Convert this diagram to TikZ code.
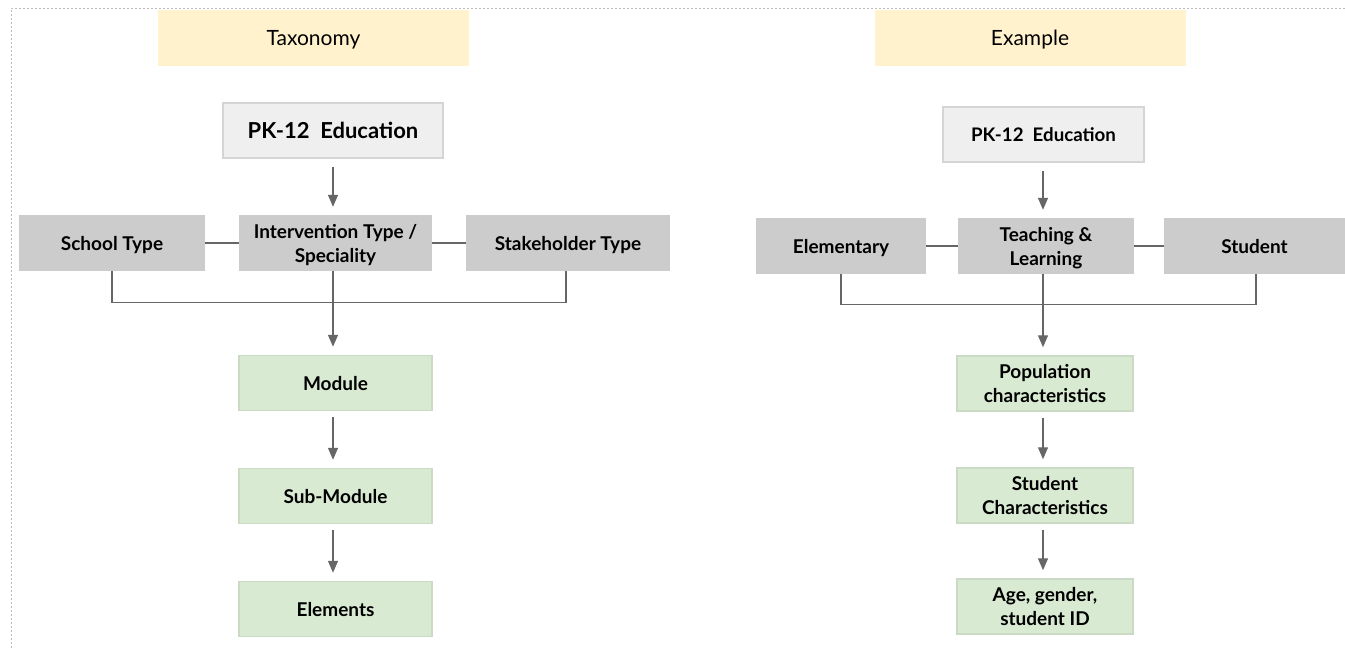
\documentclass[tikz,border=0pt]{standalone}
\usepackage{fontspec}
\setmainfont{Lato}
\usetikzlibrary{arrows.meta,positioning}
\definecolor{hdr}{HTML}{FFF2CC}
\definecolor{topfill}{HTML}{EFEFEF}
\definecolor{topline}{HTML}{D5D5D5}
\definecolor{grayfill}{HTML}{CCCCCC}
\definecolor{greenfill}{HTML}{D9EAD3}
\definecolor{greenline}{HTML}{CADAC4}
\definecolor{conn}{HTML}{666666}
\definecolor{frame}{HTML}{BBBBBB}
\tikzset{
  hdrbox/.style={fill=hdr, draw=none, minimum width=311pt, minimum height=56pt, inner sep=0pt, text depth=0pt, font=\fontsize{21}{24}\selectfont},
  topbox/.style={fill=topfill, draw=topline, line width=1.5pt, minimum height=55pt, inner sep=0pt, text depth=0pt, font=\bfseries},
  graybox/.style={fill=grayfill, draw=none, minimum height=56pt, inner sep=0pt, align=center, text depth=0pt, font=\fontsize{19}{24}\selectfont\bfseries},
  greenbox/.style={fill=greenfill, draw=greenline, line width=1.5pt, minimum height=55pt, inner sep=0pt, align=center, text depth=0pt, font=\fontsize{19}{24}\selectfont\bfseries},
  link/.style={draw=conn, line width=1.3pt},
  arr/.style={draw=conn, line width=1.3pt, -{Triangle[width=10pt,length=12pt]}, fill=conn, shorten <=8pt, shorten >=8pt},
}
\begin{document}
\begin{tikzpicture}[x=1pt,y=-1pt]
\useasboundingbox (0,0) rectangle (1345,648);
\draw[frame, line width=1pt, dash pattern=on 2pt off 2pt] (11,648) -- (11,8) -- (1345,8);

% Left: Taxonomy
\node[hdrbox] (tax) at (313.5,38) {Taxonomy};
\node[topbox, minimum width=220pt, font=\fontsize{22}{24}\selectfont\bfseries] (lpk) at (333,130.5) {PK-12\ \ Education};
\node[graybox, minimum width=186pt] (lschool) at (112,243) {School Type};
\node[graybox, minimum width=193pt] (linterv) at (335.5,243) {Intervention Type /\\Speciality};
\node[graybox, minimum width=204pt] (lstake) at (568,243) {Stakeholder Type};
\node[greenbox, minimum width=193pt] (lmod) at (335.5,383) {Module};
\node[greenbox, minimum width=193pt] (lsub) at (335.5,496) {Sub-Module};
\node[greenbox, minimum width=193pt] (lelem) at (335.5,609) {Elements};

\draw[arr] (lpk.south -| 333,0) -- (linterv.north -| 333,0);
\draw[link] (lschool.east) -- (linterv.west);
\draw[link] (linterv.east) -- (lstake.west);
\draw[link] (lschool.south) -- ++(0,31) -| (lstake.south -| 566,0);
\draw[arr, shorten <=0pt] (linterv.south -| 333,0) -- (lmod.north -| 333,0);
\draw[arr, shorten <=6pt] (lmod.south -| 333,0) -- (lsub.north -| 333,0);
\draw[arr, shorten <=6pt] (lsub.south -| 333,0) -- (lelem.north -| 333,0);

% Right: Example
\node[hdrbox] (ex) at (1030,38) {Example};
\node[topbox, minimum width=201pt, font=\fontsize{18.7}{22}\selectfont\bfseries] (rpk) at (1043.5,134.5) {PK-12\ \ Education};
\node[graybox, minimum width=170pt] (relem) at (841,246) {Elementary};
\node[graybox, minimum width=176pt] (rteach) at (1046,246) {Teaching \&\\Learning};
\node[graybox, minimum width=181pt] (rstud) at (1254.5,246) {Student};
\node[greenbox, minimum width=176pt] (rpop) at (1045,383.5) {Population\\characteristics};
\node[greenbox, minimum width=176pt] (rsc) at (1045,495.5) {Student\\Characteristics};
\node[greenbox, minimum width=176pt] (rage) at (1045,606.5) {Age, gender,\\student ID};

\draw[arr] (rpk.south -| 1043,0) -- (rteach.north -| 1043,0);
\draw[link] (relem.east) -- (rteach.west);
\draw[link] (rteach.east) -- (rstud.west);
\draw[link] (relem.south) -- ++(0,30) -| (rstud.south -| 1256,0);
\draw[arr, shorten <=0pt] (rteach.south -| 1043,0) -- (rpop.north -| 1043,0);
\draw[arr, shorten <=6pt] (rpop.south -| 1043,0) -- (rsc.north -| 1043,0);
\draw[arr, shorten <=6pt] (rsc.south -| 1043,0) -- (rage.north -| 1043,0);
\end{tikzpicture}
\end{document}
